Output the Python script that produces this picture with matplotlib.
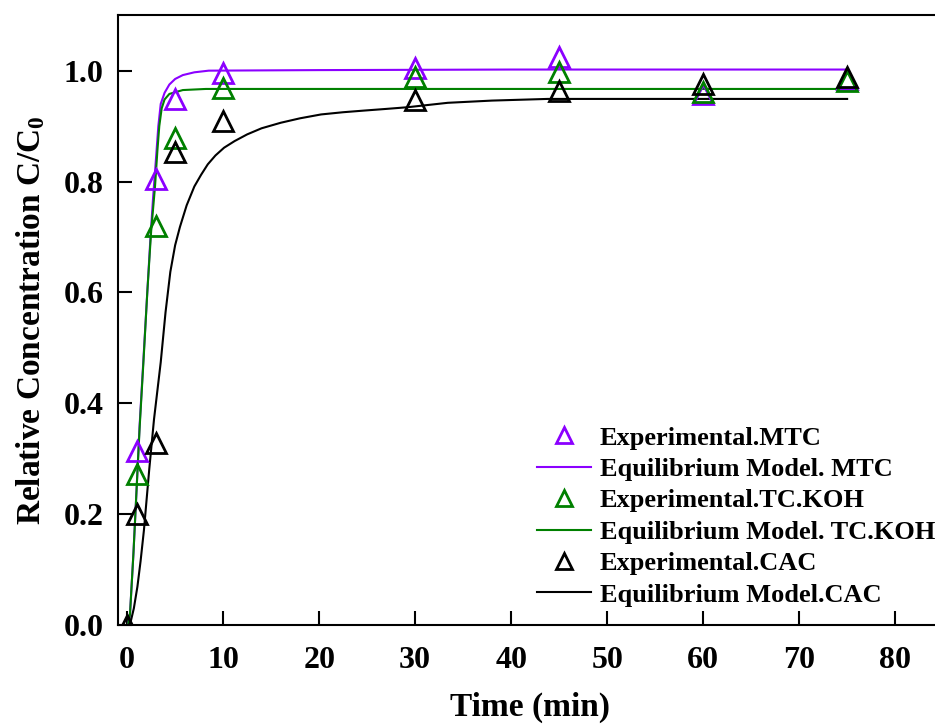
import matplotlib
matplotlib.use("Agg")
import matplotlib.pyplot as plt
from matplotlib.lines import Line2D

plt.rcParams['font.family'] = ['Liberation Serif', 'DejaVu Serif']
plt.rcParams['font.weight'] = 'bold'
plt.rcParams['mathtext.fontset'] = 'custom'
plt.rcParams['mathtext.rm'] = 'Liberation Serif:bold'
plt.rcParams['mathtext.it'] = 'Liberation Serif:bold'
plt.rcParams['mathtext.bf'] = 'Liberation Serif:bold'

# experimental points
t_mtc = [1, 3, 5, 10, 30, 45, 60, 75]
c_mtc = [0.314, 0.805, 0.949, 0.996, 1.005, 1.025, 0.958, 0.985]
t_koh = [1, 3, 5, 10, 30, 45, 60, 75]
c_koh = [0.273, 0.72, 0.878, 0.969, 0.989, 0.997, 0.962, 0.982]
t_cac = [0, 1, 3, 5, 10, 30, 45, 60, 75]
c_cac = [0.0, 0.201, 0.329, 0.854, 0.91, 0.947, 0.964, 0.976, 0.989]

# equilibrium model curves
tm_mtc = [0.1, 0.3, 0.66, 1.0, 1.3, 1.7, 2.1, 2.4, 2.7, 3.0, 3.25, 3.5, 3.9, 4.4,
          5.0, 5.8, 7.0, 8.5, 20, 40, 75]
cm_mtc = [0.0, 0.02, 0.13, 0.25, 0.36, 0.48, 0.6, 0.69, 0.77, 0.84, 0.9, 0.94, 0.96,
          0.975, 0.985, 0.992, 0.997, 1.0, 1.001, 1.002, 1.002]
tm_koh = [0.1, 0.3, 0.66, 1.0, 1.3, 1.7, 2.1, 2.5, 2.9, 3.15, 3.35, 3.6, 3.9, 4.4,
          5.8, 8.2, 20, 40, 75]
cm_koh = [0.0, 0.02, 0.13, 0.25, 0.355, 0.475, 0.6, 0.71, 0.79, 0.855, 0.9, 0.932,
          0.948, 0.958, 0.965, 0.967, 0.967, 0.967, 0.967]
tm_cac = [0.2, 0.4, 0.7, 1.07, 1.4, 1.75, 2.3, 2.8, 3.5, 4.0, 4.5, 5.0, 5.5, 6.2, 7.0,
          7.7, 8.4, 9.2, 10.1, 11.2, 12.5, 14.0, 16.0, 18.0, 20.2, 22.5, 24.7, 27.0,
          29.2, 33.4, 38.0, 43.8, 50, 60, 75]
cm_cac = [0.0, 0.008, 0.03, 0.069, 0.115, 0.171, 0.28, 0.371, 0.474, 0.564, 0.637,
          0.685, 0.718, 0.757, 0.791, 0.812, 0.831, 0.847, 0.861, 0.873, 0.885, 0.896,
          0.906, 0.914, 0.921, 0.925, 0.928, 0.931, 0.934, 0.942, 0.946, 0.949, 0.949,
          0.949, 0.949]

purple = '#8B00FF'
green = '#008000'
black = '#000000'

fig = plt.figure(figsize=(9.35, 7.25), dpi=100)
ax = fig.add_axes([0.1257, 0.138, 0.883, 0.841])

ax.plot(tm_mtc, cm_mtc, color=purple, lw=1.5)
ax.plot(tm_koh, cm_koh, color=green, lw=1.5)
ax.plot(tm_cac, cm_cac, color=black, lw=1.5)

mk = dict(marker='^', ls='none', ms=15, mew=2, mfc='none')
ax.plot(t_mtc, c_mtc, mec=purple, **mk)
ax.plot(t_koh, c_koh, mec=green, **mk)
ax.plot(t_cac, c_cac, mec=black, **mk)

ax.set_xlim(-1, 85)
ax.set_ylim(0, 1.1)
ax.set_xticks(range(0, 81, 10))
ax.set_yticks([0.0, 0.2, 0.4, 0.6, 0.8, 1.0])
ax.set_yticklabels(['0.0', '0.2', '0.4', '0.6', '0.8', '1.0'])
ax.tick_params(direction='in', length=10, width=1.5, labelsize=23)
ax.tick_params(axis='x', pad=15)
ax.tick_params(axis='y', pad=10)
for lab in ax.get_xticklabels() + ax.get_yticklabels():
    lab.set_fontweight('bold')
for s in ax.spines.values():
    s.set_linewidth(1.5)

ax.set_xlabel('Time (min)', fontsize=24, fontweight='bold', labelpad=12)
ax.set_ylabel('Relative Concentration C/C$_0$', fontsize=24, fontweight='bold',
              labelpad=12)

lh = dict(marker='^', ls='none', ms=11, mew=2, mfc='none')
handles = [
    Line2D([], [], mec=purple, **lh),
    Line2D([], [], color=purple, lw=1.5),
    Line2D([], [], mec=green, **lh),
    Line2D([], [], color=green, lw=1.5),
    Line2D([], [], mec=black, **lh),
    Line2D([], [], color=black, lw=1.5),
]
labels = ['Experimental.MTC', 'Equilibrium Model. MTC', 'Experimental.TC.KOH',
          'Equilibrium Model. TC.KOH', 'Experimental.CAC', 'Equilibrium Model.CAC']
ax.legend(handles, labels, loc='upper left', bbox_to_anchor=(0.557, 0.434),
          bbox_transform=fig.transFigure, frameon=False,
          prop={'family': 'Liberation Serif', 'weight': 'bold', 'size': 19},
          handlelength=2.05, handletextpad=0.35, labelspacing=0.3,
          borderpad=0.1)

fig.savefig('out.png', dpi=100)
